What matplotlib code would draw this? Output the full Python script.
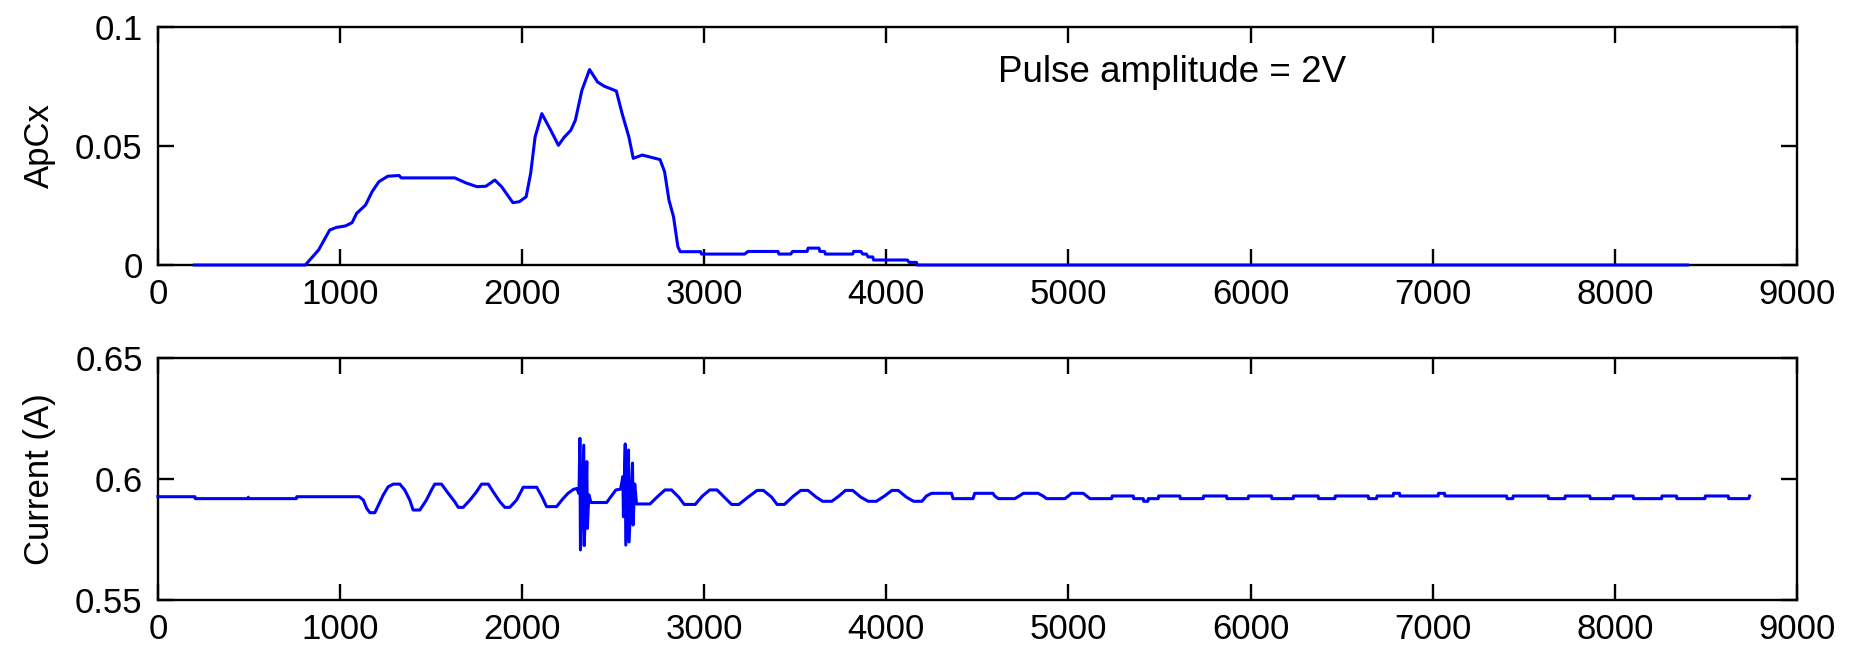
import matplotlib
matplotlib.use("Agg")
import matplotlib.pyplot as plt

# ApCx trace (top panel)
apcx_t = [200, 809, 882, 943, 980, 1029, 1066, 1091, 1140, 1176, 1213, 1262, 1324, 1336,
          1630, 1691, 1752, 1801, 1850, 1887, 1949, 1985, 2022, 2047, 2071, 2108, 2157,
          2199, 2230, 2267, 2292, 2328, 2370, 2414, 2451, 2517, 2549, 2586, 2610, 2659,
          2757, 2782, 2806, 2831, 2855, 2868, 2980, 2985, 3222, 3240, 3405, 3410, 3475,
          3485, 3565, 3570, 3630, 3635, 3660, 3665, 3815, 3820, 3860, 3870, 3890, 3900,
          3925, 3930, 4115, 4125, 4165, 4170, 8400]
apcx_v = [0, 0, 0.0063, 0.0147, 0.0158, 0.0164, 0.0178, 0.0217, 0.0252, 0.0308, 0.0350,
          0.0373, 0.0376, 0.0366, 0.0366, 0.0345, 0.0329, 0.0331, 0.0357, 0.0329, 0.0262,
          0.0266, 0.0287, 0.0387, 0.0538, 0.0636, 0.0566, 0.0503, 0.0536, 0.0566, 0.0608,
          0.0734, 0.0821, 0.0769, 0.0751, 0.0731, 0.0636, 0.0538, 0.0448, 0.0462, 0.0443,
          0.0392, 0.0273, 0.0203, 0.0077, 0.0056, 0.0056, 0.0046, 0.0046, 0.0057, 0.0057,
          0.0046, 0.0046, 0.0057, 0.0057, 0.0071, 0.0071, 0.0057, 0.0057, 0.0046, 0.0046,
          0.0057, 0.0057, 0.0046, 0.0046, 0.0034, 0.0034, 0.0021, 0.0021, 0.0011, 0.0011,
          0, 0]

# Current trace (bottom panel)
cur_t = [0, 203, 205, 494, 496, 498, 760, 762, 1105, 1128, 1146, 1164, 1191, 1237, 1264,
         1292, 1328, 1355, 1383, 1401, 1438, 1474, 1502, 1520, 1557, 1594, 1630, 1649,
         1676, 1713, 1749, 1777, 1814, 1841, 1878, 1905, 1932, 1969, 2006, 2080, 2110,
         2134, 2189, 2220, 2250, 2281, 2300, 2312, 2317, 2320, 2338, 2341, 2355, 2358,
         2366, 2378, 2464, 2490, 2515, 2540, 2553, 2556, 2566, 2569, 2584, 2587, 2606,
         2609, 2618, 2628, 2702, 2740, 2784, 2820, 2860, 2890, 2950, 2990, 3030, 3070,
         3110, 3150, 3190, 3240, 3290, 3325, 3370, 3400, 3440, 3490, 3530, 3570, 3615,
         3650, 3700, 3740, 3775, 3815, 3860, 3900, 3945, 3990, 4030, 4065, 4110, 4150,
         4195, 4220, 4248, 4358, 4366, 4476, 4485, 4585, 4595, 4615, 4705, 4730, 4752,
         4833, 4860, 4880, 4980, 5000, 5017, 5081, 5100, 5118, 5237, 5240, 5356, 5358,
         5411, 5413, 5436, 5438, 5493, 5495, 5612, 5614, 5740, 5742, 5868, 5870, 5987,
         5989, 6115, 6117, 6234, 6236, 6371, 6373, 6463, 6465, 6646, 6648, 6692, 6694,
         6783, 6785, 6818, 6820, 7030, 7032, 7065, 7067, 7406, 7408, 7440, 7442, 7634,
         7636, 7726, 7728, 7863, 7865, 7991, 7993, 8101, 8103, 8257, 8259, 8339, 8341,
         8495, 8497, 8623, 8625, 8735, 8740]
cur_a = [0.5927, 0.5927, 0.5919, 0.5919, 0.5925, 0.5919, 0.5919, 0.5927, 0.5927, 0.5913,
         0.5879, 0.5861, 0.5861, 0.5934, 0.5968, 0.5979, 0.5979, 0.5955, 0.5913, 0.5872,
         0.5872, 0.5913, 0.5955, 0.5979, 0.5979, 0.5941, 0.5906, 0.5883, 0.5883, 0.5913,
         0.5947, 0.5979, 0.5979, 0.5947, 0.5906, 0.5883, 0.5883, 0.5913, 0.5966, 0.5966,
         0.5925, 0.5886, 0.5886, 0.5915, 0.5940, 0.5957, 0.5961, 0.5940, 0.6168, 0.5707,
         0.6140, 0.5725, 0.6072, 0.5796, 0.5935, 0.5903, 0.5903, 0.5930, 0.5955, 0.5958,
         0.6010, 0.5844, 0.6145, 0.5727, 0.6120, 0.5740, 0.6066, 0.5810, 0.5980, 0.5897,
         0.5897, 0.5925, 0.5955, 0.5955, 0.5925, 0.5895, 0.5895, 0.5930, 0.5955, 0.5955,
         0.5925, 0.5895, 0.5895, 0.5925, 0.5953, 0.5953, 0.5925, 0.5895, 0.5895, 0.5930,
         0.5953, 0.5953, 0.5925, 0.5908, 0.5908, 0.5930, 0.5953, 0.5953, 0.5925, 0.5908,
         0.5908, 0.5930, 0.5953, 0.5953, 0.5925, 0.5908, 0.5908, 0.5930, 0.5941, 0.5941,
         0.5919, 0.5919, 0.5941, 0.5941, 0.5930, 0.5919, 0.5919, 0.5930, 0.5941, 0.5941,
         0.5930, 0.5919, 0.5919, 0.5930, 0.5941, 0.5941, 0.5930, 0.5919, 0.5919, 0.5930,
         0.5930, 0.5919, 0.5919, 0.5908, 0.5908, 0.5919, 0.5919, 0.5930, 0.5930, 0.5919,
         0.5919, 0.5930, 0.5930, 0.5919, 0.5919, 0.5930, 0.5930, 0.5919, 0.5919, 0.5930,
         0.5930, 0.5919, 0.5919, 0.5930, 0.5930, 0.5919, 0.5919, 0.5930, 0.5930, 0.5941,
         0.5941, 0.5930, 0.5930, 0.5941, 0.5941, 0.5930, 0.5930, 0.5919, 0.5919, 0.5930,
         0.5930, 0.5919, 0.5919, 0.5930, 0.5930, 0.5919, 0.5919, 0.5930, 0.5930, 0.5919,
         0.5919, 0.5930, 0.5930, 0.5919, 0.5919, 0.5930, 0.5930, 0.5919, 0.5919, 0.5930]

x_ticks = [0, 1000, 2000, 3000, 4000, 5000, 6000, 7000, 8000, 9000]
top_yticks = [0, 0.05, 0.1]
top_ylabels = ["0", "0.05", "0.1"]
bot_yticks = [0.55, 0.6, 0.65]
bot_ylabels = ["0.55", "0.6", "0.65"]

plt.rcParams["font.family"] = ["Liberation Sans", "DejaVu Sans"]
plt.rcParams["font.size"] = 25

fig = plt.figure(figsize=(18.54, 6.47), dpi=100)
ax1 = fig.add_axes([0.0852, 0.5904, 0.884, 0.3679])
ax2 = fig.add_axes([0.0852, 0.0726, 0.884, 0.3740])

for ax in (ax1, ax2):
    for s in ax.spines.values():
        s.set_linewidth(1.7)
        s.set_zorder(2)
    ax.tick_params(direction="in", top=True, right=True, length=11.5, width=1.7,
                   labelsize=25)
    ax.tick_params(axis="x", pad=9)
    ax.tick_params(axis="y", pad=11)
    ax.set_xlim(0, 9000)
    ax.set_xticks(x_ticks)
    ax.set_xticklabels([str(t) for t in x_ticks])

ax1.plot(apcx_t, apcx_v, color="#0000ff", lw=2.2, clip_on=False, zorder=3)
ax1.set_ylim(0, 0.1)
ax1.set_yticks(top_yticks)
ax1.set_yticklabels(top_ylabels)
ax1.set_ylabel("ApCx", labelpad=14)
ax1.text(4613, 0.0769, "Pulse amplitude = 2V", fontsize=26.5)

ax2.plot(cur_t, cur_a, color="#0000ff", lw=2.2, clip_on=False, zorder=3)
ax2.set_ylim(0.55, 0.65)
ax2.set_yticks(bot_yticks)
ax2.set_yticklabels(bot_ylabels)
ax2.set_ylabel("Current (A)", labelpad=14)

fig.savefig("out.png", dpi=100)
